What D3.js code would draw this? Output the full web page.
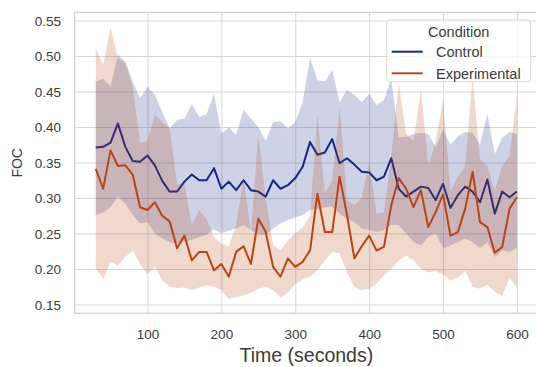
<!DOCTYPE html>
<html>
<head>
<meta charset="utf-8">
<script src="https://cdn.jsdelivr.net/npm/d3@7"></script>
<style>
  body { margin: 0; background: #fff; }
  svg text { font-family: "Liberation Sans", Arial, sans-serif; fill: #3a3a3a; }
</style>
</head>
<body>
<div id="chart"></div>
<script>

var svgWidth = 536;
var svgHeight = 367;

// plot box (right edge runs past the picture, like the original)
var margin = { top: 12.3, left: 74.7 };
var width = 463.3;
var height = 301;

// time points, seconds
var times = [30, 40, 50, 60, 70, 80, 90, 100, 110, 120, 130, 140, 150, 160, 170, 180, 190, 200,
  210, 220, 230, 240, 250, 260, 270, 280, 290, 300, 310, 320, 330, 340, 350, 360, 370, 380,
  390, 400, 410, 420, 430, 440, 450, 460, 470, 480, 490, 500, 510, 520, 530, 540, 550, 560,
  570, 580, 590, 600];

// Control: mean FOC and confidence band
var controlMean = [.371, .372, .378, .405, .372, .352, .351, .360, .346, .324, .309, .309, .323, .333,
  .325, .325, .342, .313, .323, .311, .325, .311, .309, .302, .325, .313, .318, .328, .344, .379,
  .361, .364, .383, .349, .356, .347, .337, .336, .325, .330, .356, .313, .302, .309, .316, .314,
  .297, .320, .286, .304, .316, .309, .294, .326, .278, .309, .301, .309];
var controlHigh = [.464, .468, .457, .502, .492, .464, .440, .457, .445, .421, .398, .410, .412, .432,
  .414, .418, .447, .391, .399, .389, .424, .412, .400, .380, .407, .408, .398, .407, .435, .498,
  .466, .464, .480, .435, .452, .445, .435, .447, .431, .438, .468, .386, .386, .390, .392, .390,
  .372, .396, .375, .387, .393, .392, .375, .419, .362, .385, .393, .390];
var controlLow = [.276, .280, .287, .302, .292, .276, .264, .266, .250, .243, .238, .236, .238, .241,
  .245, .248, .256, .250, .254, .257, .262, .255, .248, .248, .257, .264, .269, .273, .276, .283,
  .285, .287, .288, .278, .270, .266, .257, .255, .252, .255, .262, .262, .250, .238, .233, .245,
  .250, .229, .233, .238, .243, .238, .229, .238, .217, .226, .224, .229];

// Experimental: mean FOC and confidence band
var experimentalMean = [.341, .313, .367, .345, .346, .333, .287, .283, .294, .275, .267, .229, .247,
  .212, .224, .224, .198, .207, .189, .224, .232, .207, .271, .252, .203, .189, .215, .203, .210,
  .226, .306, .252, .252, .330, .276, .215, .232, .247, .226, .231, .290, .328, .313, .287, .311,
  .259, .280, .305, .247, .252, .285, .337, .266, .259, .223, .231, .285, .301];
var experimentalHigh = [.511, .487, .541, .497, .490, .457, .377, .381, .417, .407, .398, .320, .320,
  .262, .283, .270, .245, .235, .232, .262, .330, .250, .391, .300, .233, .226, .240, .250, .258,
  .275, .417, .306, .325, .428, .297, .290, .300, .350, .278, .280, .360, .462, .390, .380, .453,
  .345, .380, .438, .310, .330, .345, .470, .354, .345, .310, .345, .360, .445];
var experimentalLow = [.200, .186, .210, .205, .217, .226, .207, .192, .203, .184, .175, .173, .174,
  .170, .174, .177, .175, .170, .158, .160, .163, .166, .172, .175, .170, .160, .166, .179, .185,
  .189, .198, .212, .224, .222, .195, .175, .170, .172, .179, .191, .200, .212, .219, .212, .200,
  .195, .197, .192, .184, .188, .197, .175, .172, .178, .168, .162, .187, .174];

var conditions = ["Control", "Experimental"];
var colors = ["#13298a", "#b84514"];
var xTicks = [100, 200, 300, 400, 500, 600];
var yTicks = [0.15, 0.20, 0.25, 0.30, 0.35, 0.40, 0.45, 0.50, 0.55];

var series = [
  { name: conditions[0], mean: controlMean, low: controlLow, high: controlHigh, color: colors[0] },
  { name: conditions[1], mean: experimentalMean, low: experimentalLow, high: experimentalHigh, color: colors[1] }
];

var svg = d3.select("#chart")
  .append("svg")
  .attr("width", svgWidth)
  .attr("height", svgHeight);

var chartGroup = svg.append("g")
  .attr("transform", `translate(${margin.left}, ${margin.top})`);

var xScale = d3.scaleLinear().domain([1.5, 628.5]).range([0, width]);
var yScale = d3.scaleLinear().domain([0.1375, 0.5616]).range([height, 0]);

// grid lines come from the axes (ticks stretched across the plot)
var bottomAxis = d3.axisBottom(xScale)
  .tickValues(xTicks)
  .tickSize(-height)
  .tickPadding(16.4)
  .tickFormat(d3.format("d"));

var leftAxis = d3.axisLeft(yScale)
  .tickValues(yTicks)
  .tickSize(-width)
  .tickPadding(13.7)
  .tickFormat(d3.format(".2f"));

var xAxis = chartGroup.append("g")
  .attr("transform", `translate(0, ${height})`)
  .call(bottomAxis);

var yAxis = chartGroup.append("g")
  .call(leftAxis);

[xAxis, yAxis].forEach(function (ax) {
  ax.select(".domain").remove();
  ax.selectAll(".tick line").attr("stroke", "#d6d6d6").attr("stroke-width", 1);
  ax.selectAll(".tick text")
    .attr("fill", "#3a3a3a")
    .style("font-size", "13.5px")
    .style("font-family", "'Liberation Sans', Arial, sans-serif");
});
yAxis.selectAll(".tick text").attr("dy", "0.36em");

// spines
chartGroup.append("rect")
  .attr("width", width)
  .attr("height", height)
  .attr("fill", "none")
  .attr("stroke", "#d0d0d0")
  .attr("stroke-width", 1.2);

var area = d3.area()
  .x((d, i) => xScale(times[i]));

var line = d3.line()
  .x((d, i) => xScale(times[i]))
  .y(d => yScale(d));

// seaborn order: line, then its band, per condition
series.forEach(function (s) {
  chartGroup.append("path")
    .datum(s.mean)
    .attr("d", line)
    .attr("fill", "none")
    .attr("stroke", s.color)
    .attr("stroke-width", 2)
    .attr("stroke-linejoin", "round");

  chartGroup.append("path")
    .datum(s.mean)
    .attr("d", area.y0((d, i) => yScale(s.low[i])).y1((d, i) => yScale(s.high[i])))
    .attr("fill", s.color)
    .attr("fill-opacity", 0.21)
    .attr("stroke", "none");
});

// axis titles
svg.append("text")
  .attr("x", margin.left + width / 2)
  .attr("y", 362)
  .attr("text-anchor", "middle")
  .style("font-size", "19.5px")
  .text("Time (seconds)");

svg.append("text")
  .attr("transform", "translate(21.7, 162.8) rotate(-90)")
  .attr("text-anchor", "middle")
  .style("font-size", "14px")
  .text("FOC");

// legend
var legend = svg.append("g")
  .attr("transform", "translate(386.7, 20)");

legend.append("rect")
  .attr("width", 144)
  .attr("height", 61.7)
  .attr("rx", 3)
  .attr("fill", "#fff")
  .attr("fill-opacity", 0.8)
  .attr("stroke", "#d8d8d8");

legend.append("text")
  .attr("x", 72)
  .attr("y", 17)
  .attr("text-anchor", "middle")
  .style("font-size", "14.5px")
  .text("Condition");

series.forEach(function (s, i) {
  var yy = 31.7 + i * 21.6;
  legend.append("line")
    .attr("x1", 5).attr("x2", 36)
    .attr("y1", yy).attr("y2", yy)
    .attr("stroke", s.color)
    .attr("stroke-width", 2);
  legend.append("text")
    .attr("x", 49.3)
    .attr("y", yy + 5.2)
    .style("font-size", "14.5px")
    .text(s.name);
});

</script>
</body>
</html>
